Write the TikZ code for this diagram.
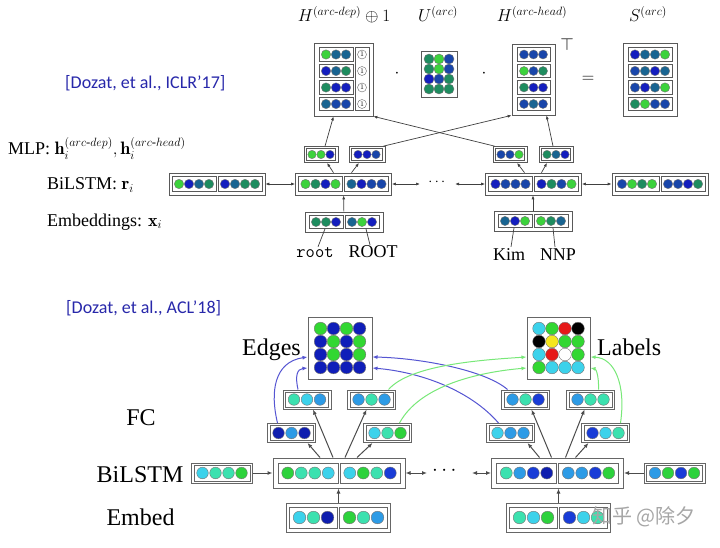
\documentclass[tikz,border=0pt]{standalone}
\usepackage{amsmath}
\usepackage{fontspec}
\newfontfamily\tnr{Liberation Serif}
\newfontfamily\carl{Carlito}
\newfontfamily\cjk{Noto Sans CJK SC}
\usetikzlibrary{arrows.meta}
% top colours
\definecolor{tG1}{RGB}{60,210,60}
\definecolor{tG2}{RGB}{30,140,95}
\definecolor{tT}{RGB}{25,100,145}
\definecolor{tB}{RGB}{20,30,190}
\definecolor{tB2}{RGB}{25,70,170}
% bottom colours
\definecolor{bG}{RGB}{45,210,60}
\definecolor{bA}{RGB}{60,225,175}
\definecolor{bC}{RGB}{60,210,235}
\definecolor{bS}{RGB}{45,155,230}
\definecolor{bB}{RGB}{25,60,215}
\definecolor{bD}{RGB}{15,30,175}
\definecolor{eG}{RGB}{50,215,50}
\definecolor{eB}{RGB}{15,30,185}
\definecolor{lR}{RGB}{230,25,25}
\definecolor{lY}{RGB}{245,230,30}
\definecolor{curB}{RGB}{85,85,210}
\definecolor{curG}{RGB}{120,232,120}
\definecolor{refblue}{RGB}{40,40,170}
\newcommand{\fs}[1]{\fontsize{#1}{#1}\selectfont}
\newcommand{\crow}[6]{\foreach \cc [count=\ii from 0] in {#6}{\filldraw[fill=\cc,draw=black!55,line width=0.4pt] ({#1+(\ii-(#3-1)/2)*#4},#2) circle (#5pt);}}
\newcommand{\bx}[6][]{\node[bx,#1,minimum width=#5pt,minimum height=#6pt] (#2) at (#3,#4) {};}
\begin{document}
\begin{tikzpicture}[x=1pt,y=-1pt,
  bx/.style={draw=black!65,line width=0.7pt,inner sep=0pt,fill=white},
  bb/.style={draw=black!60,line width=1pt},
  one/.style={circle,draw=black!60,fill=white,inner sep=0pt,minimum size=9pt,font=\fs{7}},
  arr/.style={draw=black!75,line width=0.7pt,-{Latex[length=4pt,width=3pt]}},
  darr/.style={draw=black!75,line width=0.7pt,{Latex[length=4pt,width=3pt]}-{Latex[length=4pt,width=3pt]}},
  ln/.style={draw=black!75,line width=0.7pt},
  barr/.style={draw=black!70,line width=1pt,-{Latex[length=5pt,width=4pt]}},
  bdarr/.style={draw=black!70,line width=1pt,{Latex[length=5pt,width=4pt]}-{Latex[length=5pt,width=4pt]}},
  curve/.style={line width=1pt,-{Latex[length=5pt,width=4pt]}},
  lab/.style={font=\tnr\fs{18},anchor=base west,inner sep=0pt},
  blab/.style={font=\tnr\fs{24},inner sep=0pt}]
\fill[white] (0,0) rectangle (720,548);
\useasboundingbox (0,0) rectangle (720,548);

%================ TOP =================
\node[font=\carl\fs{18},text=refblue,anchor=base west,inner sep=0pt] (ref1) at (65,89) {[Dozat, et al., ICLR’17]};

\node[font=\fs{18},anchor=base,inner sep=0pt] (tHd) at (344,22) {$H^{(arc\text{-}dep)}\oplus 1$};
\node[font=\fs{18},anchor=base,inner sep=0pt] (tU) at (438,22) {$U^{(arc)}$};
\node[font=\fs{18},anchor=base,inner sep=0pt] (tHh) at (532,22) {$H^{(arc\text{-}head)}$};
\node[font=\fs{18},anchor=base,inner sep=0pt] (tS) at (648,22) {$S^{(arc)}$};

% H arc-dep (+) 1
\bx{Hd}{343.5}{79.5}{59}{73}
\bx{Hd1}{336}{54.5}{34}{13.5} \crow{336}{54.5}{3}{10}{4.7}{tG1,tT,tT}
\bx{Hd2}{336}{71}{34}{13.5} \crow{336}{71}{3}{10}{4.7}{tB,tT,tG2}
\bx{Hd3}{336}{87.5}{34}{13.5} \crow{336}{87.5}{3}{10}{4.7}{tG2,tB,tB}
\bx{Hd4}{336}{104}{34}{13.5} \crow{336}{104}{3}{10}{4.7}{tT,tB2,tB2}
\bx{Hdc}{362}{79.25}{14}{63}
\node[one] (o1) at (362,54.5) {1};
\node[one] (o2) at (362,71) {1};
\node[one] (o3) at (362,87.5) {1};
\node[one] (o4) at (362,104) {1};

\node[font=\fs{18}] (dot1) at (397,74) {$\cdot$};

% U
\bx{U}{439}{74}{36}{46}
\crow{439}{59}{3}{10}{5}{tG2,tG1,tB2}
\crow{439}{69}{3}{10}{5}{tG2,tG1,tB2}
\crow{439}{79}{3}{10}{5}{tB,tB2,tG2}
\crow{439}{89}{3}{10}{5}{tG2,tG2,tG2}

\node[font=\fs{18}] (dot2) at (484,74) {$\cdot$};

% H arc-head
\bx{Hh}{533.5}{79.5}{43}{71}
\bx{Hh1}{533.5}{54.5}{33}{13.5} \crow{533.5}{54.5}{3}{9.5}{4.5}{tB2,tB2,tB2}
\bx{Hh2}{533.5}{71}{33}{13.5} \crow{533.5}{71}{3}{9.5}{4.5}{tG1,tB2,tG2}
\bx{Hh3}{533.5}{87.5}{33}{13.5} \crow{533.5}{87.5}{3}{9.5}{4.5}{tG2,tB,tB}
\bx{Hh4}{533.5}{104}{33}{13.5} \crow{533.5}{104}{3}{9.5}{4.5}{tB2,tT,tB2}
\node[font=\fs{18}] (tp) at (567,45) {$\top$};
\node[font=\fs{18}] (eq) at (588,79) {$=$};

% S
\bx{S}{650}{79.5}{54}{73}
\bx{S1}{650}{54.5}{44}{13.5} \crow{650}{54.5}{4}{10}{4.7}{tB,tT,tT,tG1}
\bx{S2}{650}{71}{44}{13.5} \crow{650}{71}{4}{10}{4.7}{tB2,tT,tB,tT}
\bx{S3}{650}{87.5}{44}{13.5} \crow{650}{87.5}{4}{10}{4.7}{tB2,tB,tT,tG1}
\bx{S4}{650}{104}{44}{13.5} \crow{650}{104}{4}{10}{4.7}{tG2,tG1,tB2,tB2}

% MLP vectors
\bx{m1}{321}{154.5}{34}{16} \bx{m1i}{321}{154.5}{29}{11.5} \crow{321}{154.5}{3}{9}{4.2}{tG1,tG1,tB}
\bx{m2}{367}{154.5}{36}{16} \bx{m2i}{367}{154.5}{31}{11.5} \crow{367}{154.5}{3}{9}{4.2}{tB,tB,tB2}
\bx{m3}{510}{154.5}{34}{16} \bx{m3i}{510}{154.5}{29}{11.5} \crow{510}{154.5}{3}{9}{4.2}{tB2,tB2,tG1}
\bx{m4}{556}{154.5}{34}{16} \bx{m4i}{556}{154.5}{29}{11.5} \crow{556}{154.5}{3}{9}{4.2}{tG2,tT,tB}

% BiLSTM
\bx{L0}{217}{184}{96}{22}
\bx{L0l}{194}{184}{44}{15} \crow{194}{184}{4}{10}{4.7}{tG1,tB,tT,tG2}
\bx{L0r}{240}{184}{44}{15} \crow{240}{184}{4}{10}{4.7}{tB,tT,tG2,tG2}
\bx{R1}{343.5}{184}{96}{22}
\bx{R1l}{320.5}{184}{44}{15} \crow{320.5}{184}{4}{10}{4.7}{tG1,tG2,tB,tG1}
\bx{R1r}{366.5}{184}{44}{15} \crow{366.5}{184}{4}{10}{4.7}{tT,tB,tB2,tB2}
\bx{R2}{533.5}{184}{96}{22}
\bx{R2l}{510.5}{184}{44}{15} \crow{510.5}{184}{4}{10}{4.7}{tB,tB2,tB2,tB2}
\bx{R2r}{556.5}{184}{44}{15} \crow{556.5}{184}{4}{10}{4.7}{tB,tG2,tB2,tG1}
\bx{R3}{660}{184}{96}{22}
\bx{R3l}{637}{184}{44}{15} \crow{637}{184}{4}{10}{4.7}{tB2,tG1,tG2,tG1}
\bx{R3r}{683}{184}{44}{15} \crow{683}{184}{4}{10}{4.7}{tB2,tB2,tB,tG2}

% Embeddings
\bx{E1}{344}{222}{78}{20}
\bx{E1l}{326}{222}{34}{13} \crow{326}{222}{3}{10}{4.6}{tG2,tG2,tB}
\bx{E1r}{362}{222}{34}{13} \crow{362}{222}{3}{10}{4.6}{tT,tG1,tB}
\bx{E2}{533}{221}{78}{20}
\bx{E2l}{515}{221}{34}{13} \crow{515}{221}{3}{10}{4.6}{tT,tB,tG1}
\bx{E2r}{551}{221}{34}{13} \crow{551}{221}{3}{10}{4.6}{tG1,tG2,tT}

% word labels
\node[font=\ttfamily\fs{18},anchor=base,inner sep=1pt] (w1) at (315,258) {root};
\node[font=\tnr\fs{18},anchor=base,inner sep=1pt] (w2) at (373,258) {ROOT};
\node[font=\tnr\fs{18},anchor=base,inner sep=1pt] (w3) at (509,260) {Kim};
\node[font=\tnr\fs{18},anchor=base,inner sep=1pt] (w4) at (558,260) {NNP};
\draw[ln] ([xshift=3pt]w1.north) -- ([xshift=-1pt]E1l.south);
\draw[ln] ([xshift=-3pt]w2.north) -- ([xshift=4pt]E1r.south);
\draw[ln] ([xshift=2pt]w3.north) -- ([xshift=-1pt]E2l.south);
\draw[ln] ([xshift=-3pt]w4.north) -- ([xshift=2pt]E2r.south);

% row labels
\node[lab] (lm) at (8,155) {MLP: $\mathbf{h}_i^{(arc\text{-}dep)}, \mathbf{h}_i^{(arc\text{-}head)}$};
\node[lab] (lb) at (47,190) {BiLSTM: $\mathbf{r}_i$};
\node[lab] (le) at (47,226) {Embeddings: $\mathbf{x}_i$};

% arrows
\draw[arr] (E1) -- (R1);
\draw[arr] (E2.north) -- (R2.south -| E2.north);
\draw[arr] ([xshift=-10pt]R1.north) -- ([xshift=6pt]m1.south);
\draw[arr] ([xshift=8pt]R1.north) -- ([xshift=-8pt]m2.south);
\draw[arr] ([xshift=-9pt]R2.north) -- ([xshift=7pt]m3.south);
\draw[arr] ([xshift=8pt]R2.north) -- ([xshift=-9pt]m4.south);
\draw[arr] ([xshift=4pt]m1.north) -- ([xshift=-10pt]Hd.south);
\draw[arr] ([xshift=-2pt]m2.north east) -- (Hh.south west);
\draw[arr] ([xshift=2pt]m3.north west) -- (Hd.south east);
\draw[arr] ([xshift=-3pt]m4.north) -- ([xshift=13pt]Hh.south);
\coordinate (dl) at (420,184);
\coordinate (dr) at (455,184);
\draw[darr] (L0) -- (R1);
\draw[darr] (R1) -- (dl);
\draw[darr] (dr) -- (R2);
\draw[darr] (R2) -- (R3);
\node[font=\fs{15}] (dots1) at (438,182) {$\cdots$};

%================ BOTTOM =================
\node[font=\carl\fs{18},text=refblue,anchor=base west,inner sep=0pt] (ref2) at (66,313) {[Dozat, et al., ACL’18]};

% Edges
\bx[bb]{Ed}{340}{348}{64}{62}
\crow{340}{328.5}{4}{13}{6.3}{eG,eB,eG,eB}
\crow{340}{341.5}{4}{13}{6.3}{eB,eG,eB,eG}
\crow{340}{354.5}{4}{13}{6.3}{eB,eG,eB,eG}
\crow{340}{367.5}{4}{13}{6.3}{eB,eB,eB,eB}
\node[blab,anchor=base east] (tEd) at (301,355) {Edges};

% Labels
\bx[bb]{Lb}{558.5}{348}{63}{62}
\crow{558.5}{328.5}{4}{13}{6.3}{bC,eG,lR,black}
\crow{558.5}{341.5}{4}{13}{6.3}{black,lY,eG,eG}
\crow{558.5}{354.5}{4}{13}{6.3}{bC,lR,white,eG}
\crow{558.5}{367.5}{4}{13}{6.3}{eG,bC,bC,bC}
\node[blab,anchor=base west] (tLb) at (597,355) {Labels};

% FC
\bx[bb]{A}{307}{399.5}{48}{19} \bx[bb]{Ai}{307}{399.5}{43}{15} \crow{307}{399.5}{3}{13}{5.8}{bA,bC,bS}
\bx[bb]{B}{371.5}{399.5}{48}{19} \bx[bb]{Bi}{371.5}{399.5}{43}{15} \crow{371.5}{399.5}{3}{13}{5.8}{bS,bA,bS}
\bx[bb]{C}{291.5}{433}{48}{19} \bx[bb]{Ci}{291.5}{433}{43}{15} \crow{291.5}{433}{3}{13}{5.8}{bD,bS,bD}
\bx[bb]{D}{387.5}{433}{48}{19} \bx[bb]{Di}{387.5}{433}{43}{15} \crow{387.5}{433}{3}{13}{5.8}{bC,bA,bG}
\bx[bb]{E}{525.5}{399.5}{48}{19} \bx[bb]{Ei}{525.5}{399.5}{43}{15} \crow{525.5}{399.5}{3}{13}{5.8}{bS,bA,bB}
\bx[bb]{F}{590.5}{399.5}{48}{19} \bx[bb]{Fi}{590.5}{399.5}{43}{15} \crow{590.5}{399.5}{3}{13}{5.8}{bS,bA,bA}
\bx[bb]{G}{510.5}{433}{48}{19} \bx[bb]{Gi}{510.5}{433}{43}{15} \crow{510.5}{433}{3}{13}{5.8}{bC,bS,bS}
\bx[bb]{H}{605.5}{433}{48}{19} \bx[bb]{Hi}{605.5}{433}{43}{15} \crow{605.5}{433}{3}{13}{5.8}{bB,bC,bA}

% BiLSTM
\bx[bb]{BL}{222}{473}{61}{20} \bx[bb]{BLi}{222}{473}{56}{16} \crow{222}{473}{4}{13}{5.8}{bC,bA,bA,bG}
\bx[bb]{BR1}{339}{473}{132}{30}
\bx[bb]{BR1l}{308}{473}{60}{20} \crow{308}{473}{4}{13.5}{6}{bG,bA,bA,bC}
\bx[bb]{BR1r}{370}{473}{60}{20} \crow{370}{473}{4}{13.5}{6}{bC,bG,bA,bB}
\bx[bb]{BR2}{557.5}{473}{132}{30}
\bx[bb]{BR2l}{526.5}{473}{60}{20} \crow{526.5}{473}{4}{13.5}{6}{bA,bS,bB,bD}
\bx[bb]{BR2r}{588.5}{473}{60}{20} \crow{588.5}{473}{4}{13.5}{6}{bS,bS,bB,bG}
\bx[bb]{BRR}{674.5}{473}{61}{20} \bx[bb]{BRRi}{674.5}{473}{56}{16} \crow{674.5}{473}{4}{13}{5.8}{bS,bG,bB,bG}

% Embed
\bx[bb]{EM1}{338.5}{517.5}{104}{29}
\bx[bb]{EM1l}{313.5}{517.5}{48}{21} \crow{313.5}{517.5}{3}{14}{6.3}{bC,bA,bD}
\bx[bb]{EM1r}{363.5}{517.5}{48}{21} \crow{363.5}{517.5}{3}{14}{6.3}{bG,bA,bS}
\bx[bb]{EM2}{558.5}{517.5}{104}{29}
\bx[bb]{EM2l}{533.5}{517.5}{48}{21} \crow{533.5}{517.5}{3}{14}{6.3}{bA,bC,bG}
\bx[bb]{EM2r}{583.5}{517.5}{48}{21} \crow{583.5}{517.5}{3}{14}{6.3}{bB,bC,bA}

% row labels
\node[blab,anchor=base] (lFC) at (141,425) {FC};
\node[blab,anchor=base] (lBi) at (140,482) {BiLSTM};
\node[blab,anchor=base] (lEm) at (140.5,525) {Embed};

% straight arrows
\draw[barr] (BL) -- (BR1);
\coordinate (bdl) at (427,473);
\coordinate (bdr) at (472,473);
\draw[bdarr] (BR1) -- (bdl);
\draw[bdarr] (bdr) -- (BR2);
\draw[barr] (BRR) -- (BR2);
\node[font=\fs{22}] (dots2) at (446,471) {$\cdots$};
\draw[barr] (EM1.north) -- (BR1.south -| EM1.north);
\draw[barr] (EM2.north) -- (BR2.south -| EM2.north);
\draw[barr] ([xshift=-19pt]BR1.north) -- ([xshift=16pt]C.south);
\draw[barr] ([xshift=-6pt]BR1.north) -- ([xshift=6pt]A.south);
\draw[barr] ([xshift=6pt]BR1.north) -- ([xshift=-5pt]B.south);
\draw[barr] ([xshift=18pt]BR1.north) -- ([xshift=-15pt]D.south);
\draw[barr] ([xshift=-18pt]BR2.north) -- ([xshift=17pt]G.south);
\draw[barr] ([xshift=-6pt]BR2.north) -- ([xshift=6pt]E.south);
\draw[barr] ([xshift=8pt]BR2.north) -- ([xshift=-6pt]F.south);
\draw[barr] ([xshift=18pt]BR2.north) -- ([xshift=-17pt]H.south);

% curved arrows
\draw[curve,curB] ([xshift=-14pt]C.north) .. controls (270,392) and (274,362) .. ([yshift=-9pt]Ed.west);
\draw[curve,curB] ([xshift=-9pt]A.north) .. controls (295,376) and (297,369) .. ([yshift=-20pt]Ed.west);
\draw[curve,curB] ([xshift=-18pt]E.north) .. controls (485,370) and (420,358) .. ([yshift=-9pt]Ed.east);
\draw[curve,curB] ([xshift=-12pt]G.north) .. controls (470,390) and (420,372) .. ([yshift=-20pt]Ed.east);
\draw[curve,curG] ([xshift=17pt]B.north) .. controls (410,365) and (480,360) .. ([yshift=-9pt]Lb.west);
\draw[curve,curG] ([xshift=12pt]D.north) .. controls (420,385) and (480,372) .. ([yshift=-20pt]Lb.west);
\draw[curve,curG] ([xshift=8pt]F.north) .. controls (599,376) and (596,369) .. ([yshift=-20pt]Lb.east);
\draw[curve,curG] ([xshift=15pt]H.north) .. controls (626,385) and (615,358) .. ([yshift=-9pt]Lb.east);

% watermark
\node[font=\cjk\fs{20},text=black!35,inner sep=0pt] (wm) at (644,517) {知乎 @除夕};
\end{tikzpicture}
\end{document}
